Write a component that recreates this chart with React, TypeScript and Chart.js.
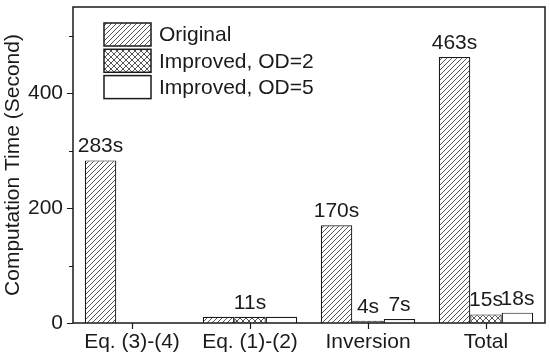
import React, { useEffect, useRef } from "react";
import { Chart, registerables } from "chart.js";

Chart.register(...registerables);

const categories = ["Eq. (3)-(4)", "Eq. (1)-(2)", "Inversion", "Total"];
const seriesNames = ["Original", "Improved, OD=2", "Improved, OD=5"];
const originalValues: (number | null)[] = [283, 11, 170, 463];
const od2Values: (number | null)[] = [null, 11, 4, 15];
const od5Values: (number | null)[] = [null, 11, 7, 18];
const originalLabels = ["283s", "", "170s", "463s"];
const od2Labels = ["", "11s", "4s", "15s"];
const od5Labels = ["", "", "7s", "18s"];
const yLabelTicks = [0, 200, 400];
const yMinorTicks = [100, 300, 500];
const yMax = 550;
const yTitle = "Computation Time (Second)";

const FONT = "'Liberation Sans', Arial, sans-serif";
const INK = "#1a1a1a";

function makePattern(kind: "diag" | "cross" | "none"): CanvasPattern | string {
  if (kind === "none") return "#ffffff";
  const s = kind === "diag" ? 5 : 6;
  const c = document.createElement("canvas");
  c.width = s;
  c.height = s;
  const g = c.getContext("2d")!;
  g.fillStyle = "#ffffff";
  g.fillRect(0, 0, s, s);
  g.strokeStyle = "#555";
  g.lineWidth = 1;
  g.beginPath();
  g.moveTo(0, s);
  g.lineTo(s, 0);
  g.moveTo(-s, s);
  g.lineTo(s, -s);
  g.moveTo(0, 2 * s);
  g.lineTo(2 * s, 0);
  if (kind === "cross") {
    g.moveTo(0, 0);
    g.lineTo(s, s);
    g.moveTo(-s, 0);
    g.lineTo(s, 2 * s);
    g.moveTo(0, -s);
    g.lineTo(2 * s, s);
  }
  g.stroke();
  return g.createPattern(c, "repeat")!;
}

export default function App() {
  const ref = useRef<HTMLCanvasElement | null>(null);

  useEffect(() => {
    const canvas = ref.current!;
    const fills = [makePattern("diag"), makePattern("cross"), makePattern("none")];
    const labelSets = [originalLabels, od2Labels, od5Labels];

    const decorPlugin = {
      id: "decor",
      afterDatasetsDraw(chart: any) {
        const ctx = chart.ctx as CanvasRenderingContext2D;
        const area = chart.chartArea;
        const y = chart.scales.y;
        const x = chart.scales.x;
        ctx.save();
        // frame
        ctx.strokeStyle = INK;
        ctx.lineWidth = 1.5;
        ctx.strokeRect(area.left, area.top, area.right - area.left, area.bottom - area.top);
        // ticks
        ctx.lineWidth = 1.2;
        ctx.beginPath();
        yLabelTicks.forEach((v) => {
          const py = Math.round(y.getPixelForValue(v)) + 0.5;
          ctx.moveTo(area.left - 6, py);
          ctx.lineTo(area.left, py);
        });
        yMinorTicks.forEach((v) => {
          const py = Math.round(y.getPixelForValue(v)) + 0.5;
          ctx.moveTo(area.left - 4, py);
          ctx.lineTo(area.left, py);
        });
        categories.forEach((_, i) => {
          const px = Math.round(x.getPixelForValue(i)) + 0.5;
          ctx.moveTo(px, area.bottom);
          ctx.lineTo(px, area.bottom + 6);
        });
        ctx.stroke();

        // value labels
        ctx.fillStyle = INK;
        ctx.font = `21px ${FONT}`;
        ctx.textAlign = "center";
        ctx.textBaseline = "alphabetic";
        chart.data.datasets.forEach((_: any, di: number) => {
          const meta = chart.getDatasetMeta(di);
          meta.data.forEach((el: any, i: number) => {
            const txt = labelSets[di][i];
            if (!txt) return;
            ctx.fillText(txt, el.x, el.y - 8);
          });
        });

        // legend
        const bx = 104;
        const by = 23;
        const bw = 47;
        const bh = 23;
        const step = 26.3;
        seriesNames.forEach((name, i) => {
          const top = by + i * step;
          ctx.fillStyle = fills[i] as any;
          ctx.fillRect(bx, top, bw, bh);
          ctx.strokeStyle = INK;
          ctx.lineWidth = 1.5;
          ctx.strokeRect(bx, top, bw, bh);
          ctx.fillStyle = INK;
          ctx.textAlign = "left";
          ctx.textBaseline = "middle";
          ctx.fillText(name, 159, top + bh / 2 + 1);
        });
        ctx.restore();
      },
    };

    const chart = new Chart(canvas, {
      type: "bar",
      data: {
        labels: categories,
        datasets: [
          { label: seriesNames[0], data: originalValues, backgroundColor: fills[0] as any },
          { label: seriesNames[1], data: od2Values, backgroundColor: fills[1] as any },
          { label: seriesNames[2], data: od5Values, backgroundColor: fills[2] as any },
        ].map((d) => ({
          ...d,
          borderColor: INK,
          borderWidth: 1.2,
          categoryPercentage: 0.8,
          barPercentage: 1.0,
        })),
      },
      options: {
        responsive: false,
        animation: false,
        layout: { padding: { top: 7, right: 5, left: 0, bottom: 0 } },
        plugins: {
          legend: { display: false },
          tooltip: { enabled: false },
        },
        scales: {
          x: {
            grid: { display: false, drawTicks: false, tickLength: 0 },
            border: { display: false },
            ticks: {
              color: INK,
              font: { family: FONT, size: 21 },
              padding: 7,
              maxRotation: 0,
              autoSkip: false,
            },
            afterFit: (s: any) => {
              s.height = 38;
              s.paddingLeft = 0;
              s.paddingRight = 0;
            },
          },
          y: {
            min: 0,
            max: yMax,
            grid: { display: false, drawTicks: false, tickLength: 0 },
            border: { display: false },
            ticks: {
              stepSize: 200,
              includeBounds: false,
              color: INK,
              font: { family: FONT, size: 21 },
              padding: 10,
              callback: (v: any) => (yLabelTicks.includes(Number(v)) ? String(v) : ""),
            },
            title: {
              display: true,
              text: yTitle,
              color: INK,
              font: { family: FONT, size: 21, weight: "normal" },
              padding: { top: 1, bottom: 0 },
            },
            afterFit: (s: any) => {
              s.width = 73;
              s.paddingTop = 0;
              s.paddingBottom = 0;
            },
          },
        },
      },
      plugins: [decorPlugin],
    } as any);

    return () => chart.destroy();
  }, []);

  return (
    <div style={{ position: "fixed", left: 0, top: 0, width: 550, height: 361, background: "#fff" }}>
      <canvas ref={ref} width={550} height={361} style={{ display: "block" }} />
    </div>
  );
}
